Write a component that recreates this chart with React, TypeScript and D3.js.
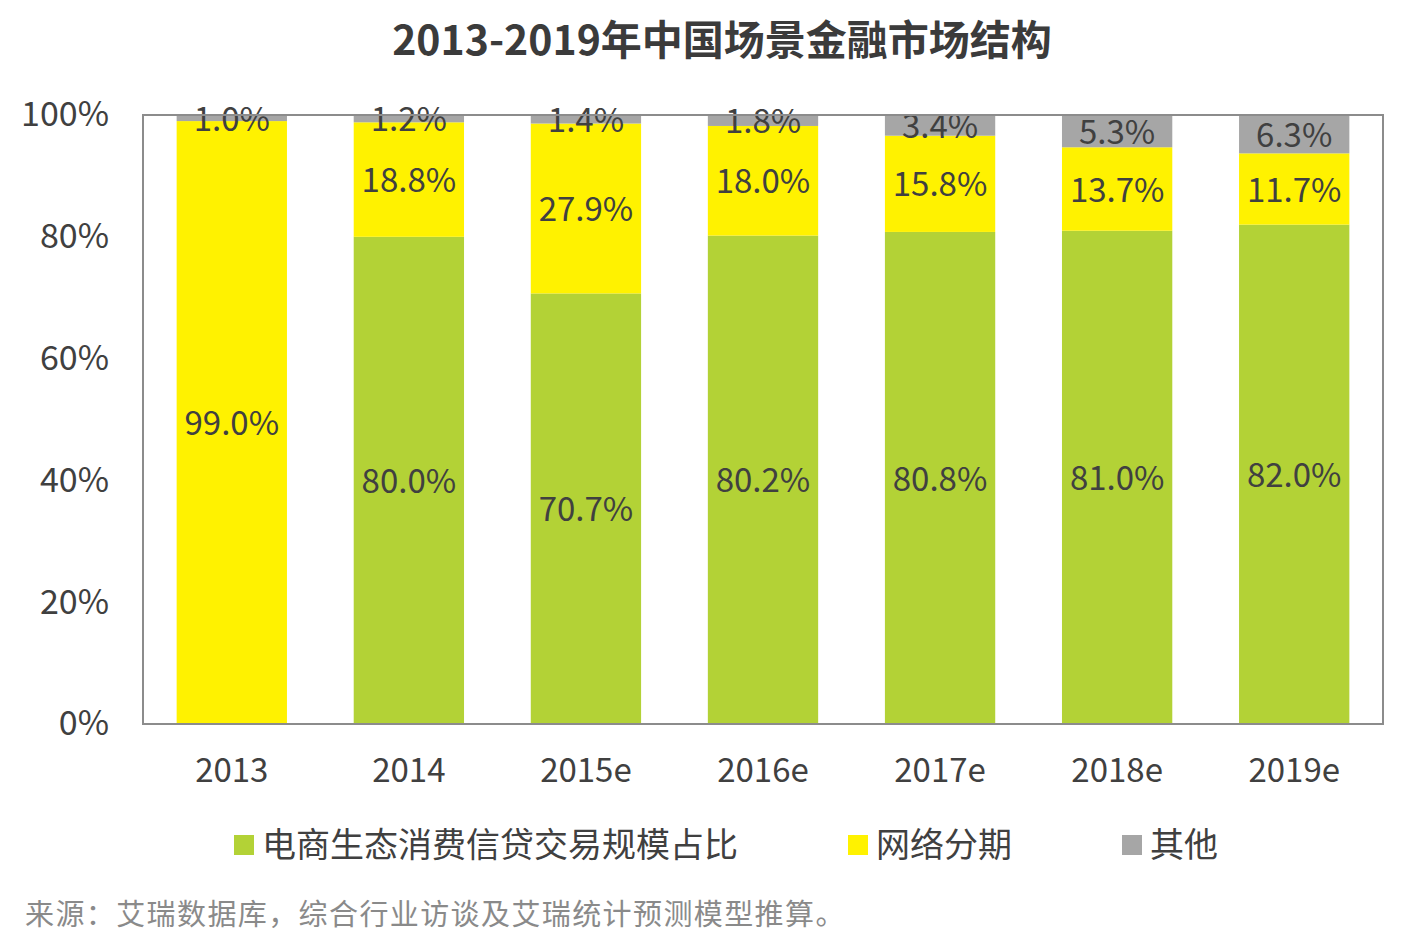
import { useEffect, useRef } from "react";
import * as d3 from "d3";

const years = ["2013", "2014", "2015e", "2016e", "2017e", "2018e", "2019e"];
const seriesNames = ["电商生态消费信贷交易规模占比", "网络分期", "其他"];
const ecommerce = [0, 80.0, 70.7, 80.2, 80.8, 81.0, 82.0];
const installment = [99.0, 18.8, 27.9, 18.0, 15.8, 13.7, 11.7];
const others = [1.0, 1.2, 1.4, 1.8, 3.4, 5.3, 6.3];
const yTicks = [0, 20, 40, 60, 80, 100];
const colors = ["#b3d236", "#fff200", "#a6a6a6"];

const title = "2013-2019年中国场景金融市场结构";
const source = "来源：艾瑞数据库，综合行业访谈及艾瑞统计预测模型推算。";

const FONT = "'Noto Sans CJK SC', 'Noto Sans', sans-serif";

export default function App() {
  const svgRef = useRef<SVGSVGElement>(null);

  useEffect(() => {
    document.body.style.margin = "0";
    if (!svgRef.current) return;
    const svg = d3.select(svgRef.current);
    svg.selectAll("*").remove();

    const margin = { top: 115, left: 143, right: 39, bottom: 224 };
    const W = 1422;
    const H = 948;
    const width = W - margin.left - margin.right;
    const height = H - margin.top - margin.bottom;

    const rows = years.map((y, i) => ({
      year: y,
      s0: ecommerce[i],
      s1: installment[i],
      s2: others[i],
    }));
    const stack = d3.stack<any>().keys(["s0", "s1", "s2"]);
    const layers = stack(rows);

    const x = d3
      .scaleBand()
      .domain(years)
      .range([0, width])
      .paddingInner(0.377)
      .paddingOuter(0.19);
    const y = d3.scaleLinear().domain([0, 100]).range([height, 0]);

    // 제목
    svg
      .append("text")
      .attr("x", 722)
      .attr("y", 55)
      .attr("text-anchor", "middle")
      .attr("font-family", FONT)
      .attr("font-weight", "bold")
      .attr("font-size", 41)
      .attr("fill", "#3b3b3b")
      .text(title);

    const g = svg
      .append("g")
      .attr("transform", `translate(${margin.left},${margin.top})`);

    // 막대
    layers.forEach((layer, li) => {
      g.append("g")
        .selectAll("rect")
        .data(layer)
        .enter()
        .append("rect")
        .attr("x", (d) => x(d.data.year)!)
        .attr("width", x.bandwidth())
        .attr("y", (d) => y(d[1]))
        .attr("height", (d) => y(d[0]) - y(d[1]))
        .attr("fill", colors[li]);
    });

    // 라벨
    layers.forEach((layer) => {
      g.append("g")
        .selectAll("text")
        .data(layer.filter((d) => d[1] - d[0] > 0))
        .enter()
        .append("text")
        .attr("x", (d) => x(d.data.year)! + x.bandwidth() / 2)
        .attr("y", (d) => y((d[0] + d[1]) / 2))
        .attr("dy", "0.38em")
        .attr("text-anchor", "middle")
        .attr("font-family", FONT)
        .attr("font-size", 33)
        .attr("fill", "#404040")
        .text((d) => (d[1] - d[0]).toFixed(1) + "%");
    });

    // 테두리
    g.append("rect")
      .attr("x", 0)
      .attr("y", 0)
      .attr("width", width)
      .attr("height", height)
      .attr("fill", "none")
      .attr("stroke", "#8c8c8c")
      .attr("stroke-width", 2);

    // y축
    const yAxis = g
      .append("g")
      .call(
        d3
          .axisLeft(y)
          .tickValues(yTicks)
          .tickSize(0)
          .tickPadding(34)
          .tickFormat((d) => `${d}%`)
      );
    yAxis.select(".domain").remove();
    yAxis
      .selectAll("text")
      .attr("font-family", FONT)
      .attr("font-size", 34)
      .attr("fill", "#404040");

    // x축
    const xAxis = g
      .append("g")
      .attr("transform", `translate(0,${height})`)
      .call(d3.axisBottom(x).tickSize(0).tickPadding(35));
    xAxis.select(".domain").remove();
    xAxis
      .selectAll("text")
      .attr("font-family", FONT)
      .attr("font-size", 33)
      .attr("fill", "#404040");

    // 범례
    const legendX = [234, 848, 1122];
    const legend = svg
      .append("g")
      .selectAll("g")
      .data(seriesNames)
      .enter()
      .append("g")
      .attr("transform", (_, i) => `translate(${legendX[i]},835)`);
    legend
      .append("rect")
      .attr("width", 20)
      .attr("height", 20)
      .attr("fill", (_, i) => colors[i]);
    legend
      .append("text")
      .attr("x", 28)
      .attr("y", 10)
      .attr("dy", "0.36em")
      .attr("font-family", FONT)
      .attr("font-size", 34)
      .attr("fill", "#404040")
      .text((d) => d);

    // 출처
    svg
      .append("text")
      .attr("x", 25)
      .attr("y", 915)
      .attr("dy", "0.36em")
      .attr("font-family", FONT)
      .attr("font-size", 29)
      .attr("letter-spacing", 1.4)
      .attr("fill", "#8a8a8a")
      .text(source);
  }, []);

  return <svg ref={svgRef} width={1422} height={948} style={{ display: "block" }} />;
}
